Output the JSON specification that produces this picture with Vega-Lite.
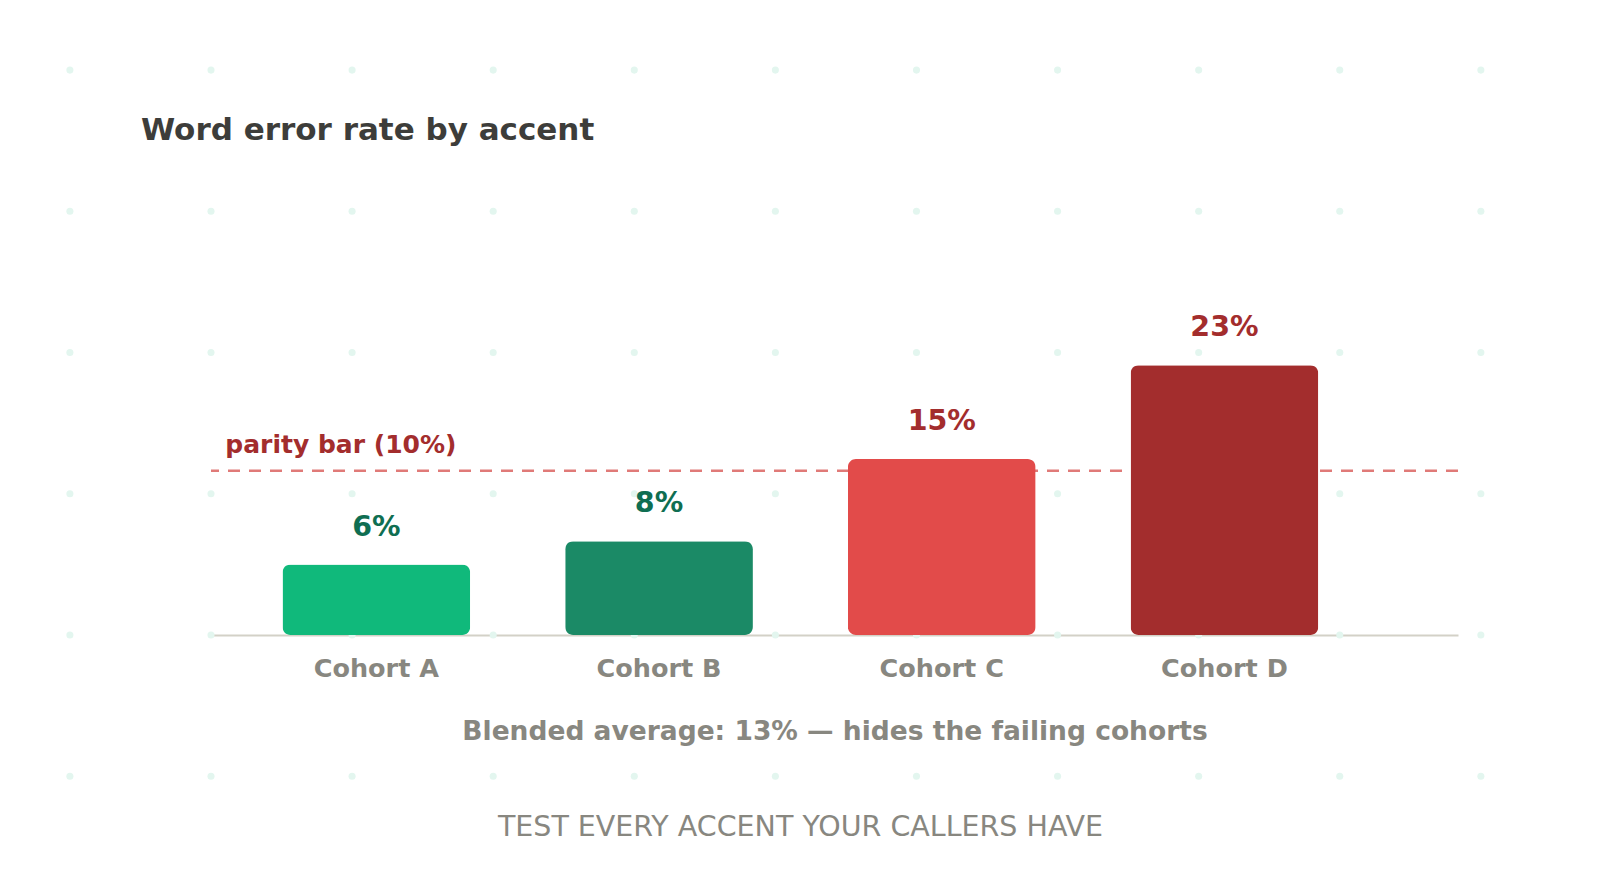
{
  "$schema": "https://vega.github.io/schema/vega-lite/v6.json",
  "width": 1247,
  "height": 352,
  "autosize": {"type": "none"},
  "padding": {"left": 211, "top": 283, "right": 142, "bottom": 259},
  "background": "#ffffff",
  "config": {"view": {"stroke": null}, "font": "DejaVu Sans"},
  "title": {
    "text": "Word error rate by accent",
    "anchor": "start",
    "frame": "group",
    "dx": -70,
    "offset": 0,
    "dy": 104.5,
    "baseline": "alphabetic",
    "font": "DejaVu Sans",
    "fontSize": 31,
    "fontWeight": "bold",
    "color": "#3d3d3a"
  },
  "datasets": {
    "cohorts": [
      {"cohort": "Cohort A", "wer": 6, "label": "6%", "status": "pass"},
      {"cohort": "Cohort B", "wer": 8, "label": "8%", "status": "pass"},
      {"cohort": "Cohort C", "wer": 15, "label": "15%", "status": "fail"},
      {"cohort": "Cohort D", "wer": 23, "label": "23%", "status": "fail"}
    ],
    "parity": [
      {"name": "parity bar (10%)", "level": 14, "anchor": "Cohort A"}
    ],
    "dots": [
      {"gx": 0, "gy": 0}, {"gx": 1, "gy": 0}, {"gx": 2, "gy": 0}, {"gx": 3, "gy": 0}, {"gx": 4, "gy": 0}, {"gx": 5, "gy": 0}, {"gx": 6, "gy": 0}, {"gx": 7, "gy": 0}, {"gx": 8, "gy": 0}, {"gx": 9, "gy": 0}, {"gx": 10, "gy": 0},
      {"gx": 0, "gy": 1}, {"gx": 1, "gy": 1}, {"gx": 2, "gy": 1}, {"gx": 3, "gy": 1}, {"gx": 4, "gy": 1}, {"gx": 5, "gy": 1}, {"gx": 6, "gy": 1}, {"gx": 7, "gy": 1}, {"gx": 8, "gy": 1}, {"gx": 9, "gy": 1}, {"gx": 10, "gy": 1},
      {"gx": 0, "gy": 2}, {"gx": 1, "gy": 2}, {"gx": 2, "gy": 2}, {"gx": 3, "gy": 2}, {"gx": 4, "gy": 2}, {"gx": 5, "gy": 2}, {"gx": 6, "gy": 2}, {"gx": 7, "gy": 2}, {"gx": 8, "gy": 2}, {"gx": 9, "gy": 2}, {"gx": 10, "gy": 2},
      {"gx": 0, "gy": 3}, {"gx": 1, "gy": 3}, {"gx": 2, "gy": 3}, {"gx": 3, "gy": 3}, {"gx": 4, "gy": 3}, {"gx": 5, "gy": 3}, {"gx": 6, "gy": 3}, {"gx": 7, "gy": 3}, {"gx": 8, "gy": 3}, {"gx": 9, "gy": 3}, {"gx": 10, "gy": 3},
      {"gx": 0, "gy": 4}, {"gx": 1, "gy": 4}, {"gx": 2, "gy": 4}, {"gx": 3, "gy": 4}, {"gx": 4, "gy": 4}, {"gx": 5, "gy": 4}, {"gx": 6, "gy": 4}, {"gx": 7, "gy": 4}, {"gx": 8, "gy": 4}, {"gx": 9, "gy": 4}, {"gx": 10, "gy": 4},
      {"gx": 0, "gy": 5}, {"gx": 1, "gy": 5}, {"gx": 2, "gy": 5}, {"gx": 3, "gy": 5}, {"gx": 4, "gy": 5}, {"gx": 5, "gy": 5}, {"gx": 6, "gy": 5}, {"gx": 7, "gy": 5}, {"gx": 8, "gy": 5}, {"gx": 9, "gy": 5}, {"gx": 10, "gy": 5}
    ]
  },
  "resolve": {"scale": {"x": "independent", "y": "independent"}, "axis": {"x": "independent", "y": "independent"}},
  "layer": [
    {
      "data": {"name": "dots"},
      "mark": {"type": "circle", "size": 50, "opacity": 1, "color": "#e3f6ef"},
      "encoding": {
        "x": {"field": "gx", "type": "quantitative", "axis": null, "scale": {"domain": [1, 9.838], "zero": false, "nice": false}},
        "y": {"field": "gy", "type": "quantitative", "axis": null, "scale": {"domain": [1.5075, 4], "zero": false, "nice": false, "reverse": true}}
      }
    },
    {
      "resolve": {"scale": {"color": "independent"}},
      "layer": [
        {
          "data": {"name": "parity"},
          "mark": {"type": "rule", "color": "#e07a78", "strokeWidth": 2.5, "strokeDash": [12, 9]},
          "encoding": {
            "y": {"field": "level", "type": "quantitative"}
          }
        },
        {
          "data": {"name": "parity"},
          "mark": {"type": "text", "align": "left", "baseline": "alphabetic", "dx": -151, "dy": -18, "fontSize": 25, "fontWeight": "bold", "color": "#a32d2d"},
          "encoding": {
            "x": {"field": "anchor", "type": "nominal"},
            "y": {"field": "level", "type": "quantitative"},
            "text": {"field": "name"}
          }
        },
        {
          "data": {"name": "cohorts"},
          "mark": {"type": "bar", "cornerRadius": 8},
          "encoding": {
            "x": {
              "field": "cohort",
              "type": "nominal",
              "sort": null,
              "scale": {"paddingInner": 0.336, "paddingOuter": 0.3735, "align": 0.3385},
              "axis": {
                "title": "Blended average: 13% — hides the failing cohorts",
                "titleFont": "DejaVu Sans",
                "titleFontSize": 26.5,
                "titleFontWeight": "bold",
                "titleColor": "#888780",
                "titlePadding": 37,
                "labelAngle": 0,
                "labelAlign": "center",
                "labelFont": "DejaVu Sans",
                "labelFontSize": 25.5,
                "labelFontWeight": "bold",
                "labelColor": "#888780",
                "labelPadding": 33,
                "ticks": false,
                "domain": true,
                "domainColor": "#d3d1c7",
                "domainWidth": 2,
                "grid": false
              }
            },
            "y": {
              "field": "wer",
              "type": "quantitative",
              "scale": {"domain": [0, 30], "nice": false},
              "axis": {
                "orient": "left",
                "title": "TEST EVERY ACCENT YOUR CALLERS HAVE",
                "titleAngle": 0,
                "titleX": 589,
                "titleY": 543,
                "titleAlign": "center",
                "titleBaseline": "middle",
                "titleFont": "DejaVu Sans",
                "titleFontSize": 28.5,
                "titleFontWeight": "normal",
                "titleColor": "#888780",
                "labels": false,
                "ticks": false,
                "domain": false,
                "grid": false
              }
            },
            "color": {
              "field": "cohort",
              "type": "nominal",
              "legend": null,
              "scale": {"domain": ["Cohort A", "Cohort B", "Cohort C", "Cohort D"], "range": ["#10b97b", "#1b8a66", "#e24b4a", "#a32d2d"]}
            }
          }
        },
        {
          "data": {"name": "cohorts"},
          "mark": {"type": "text", "baseline": "alphabetic", "dy": -29, "fontSize": 28.5, "fontWeight": "bold"},
          "encoding": {
            "x": {"field": "cohort", "type": "nominal", "sort": null},
            "y": {"field": "wer", "type": "quantitative"},
            "text": {"field": "label"},
            "color": {
              "field": "status",
              "type": "nominal",
              "legend": null,
              "scale": {"domain": ["pass", "fail"], "range": ["#0f6e52", "#a32d2d"]}
            }
          }
        }
      ]
    }
  ]
}
